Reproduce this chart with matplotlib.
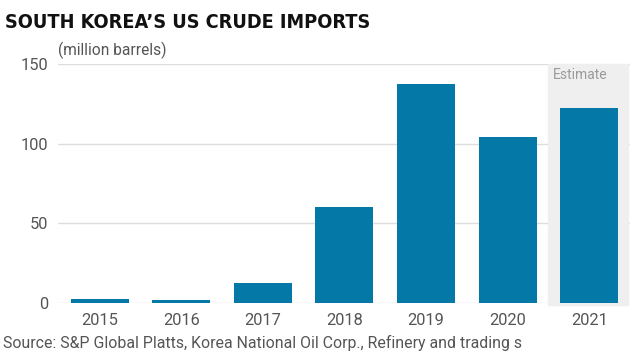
import matplotlib.pyplot as plt

# South Korea's crude imports from the US (million barrels)
years = ['2015', '2016', '2017', '2018', '2019', '2020', '2021']
imports = [2.5, 2.0, 12.6, 60.0, 137.5, 104.0, 122.5]
y_ticks = [0, 50, 100, 150]

bar_color = '#0479a8'
text_color = '#555555'

fig = plt.figure(figsize=(6.4, 3.63), dpi=100)
ax = fig.add_axes([58 / 640, 1 - 303 / 363, 572 / 640, 239 / 363])

x = range(len(years))
# shaded "Estimate" band behind the last bar
ax.axvspan(5.49, 6.47, ymin=-0.01, ymax=1.0, color='#efefef', zorder=1.5, clip_on=False)
ax.text(5.56, 143, 'Estimate', color='#9a9a9a', fontsize=10, family='Roboto',
        ha='left', va='center')

ax.bar(x, imports, width=0.71, color=bar_color, zorder=2)

ax.set_xlim(-0.51, 6.5)
ax.set_ylim(0, 150)
ax.set_yticks(y_ticks)
ax.yaxis.grid(True, color='#dddddd', linewidth=1, zorder=1)
ax.set_axisbelow(True)
for s in ax.spines.values():
    s.set_visible(False)
ax.tick_params(length=0, labelsize=11.8, labelcolor=text_color, pad=7)
ax.set_xticks(list(x))
ax.set_xticklabels(years)
for lab in ax.get_xticklabels() + ax.get_yticklabels():
    lab.set_family('Roboto')
ax.tick_params(axis='x', pad=7)

fig.text(5 / 640, 1 - 23 / 363, "SOUTH KOREA\u2019S US CRUDE IMPORTS", fontsize=14.2,
         fontweight='bold', family='DejaVu Sans', fontstretch='condensed',
         color='#111111', va='center', ha='left')
fig.text(58 / 640, 1 - 50 / 363, '(million barrels)', fontsize=11.2, family='Roboto',
         color=text_color, va='center', ha='left')
fig.text(3 / 640, 1 - 343 / 363,
         'Source: S&P Global Platts, Korea National Oil Corp., Refinery and trading s',
         fontsize=11.4, family='Roboto', color=text_color, va='center', ha='left')

fig.savefig('out.png', dpi=100, facecolor='white')
